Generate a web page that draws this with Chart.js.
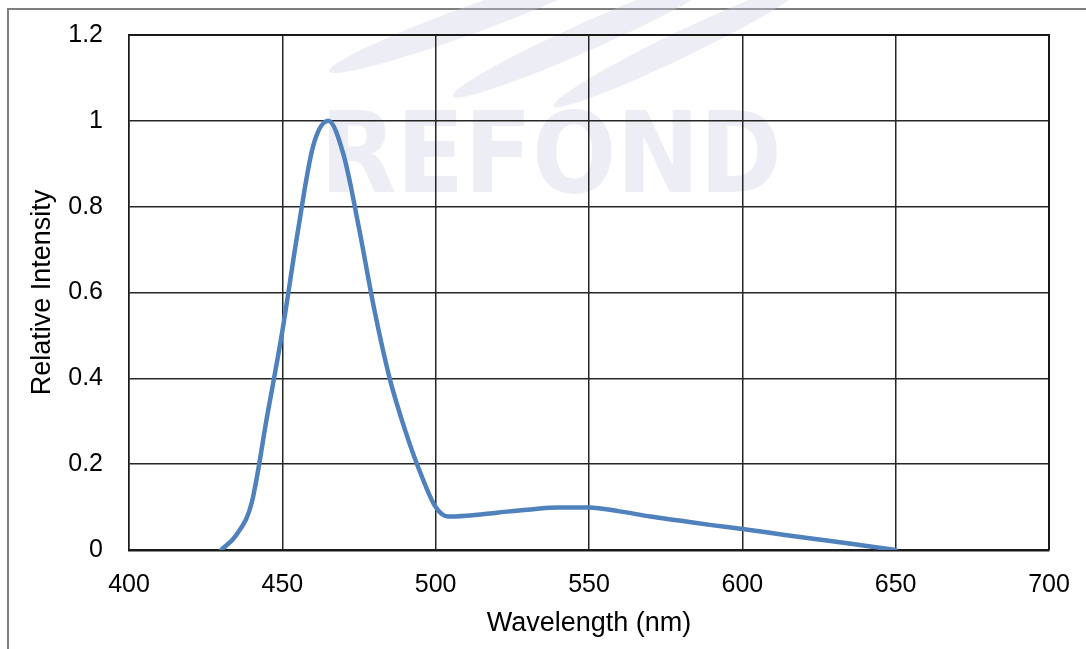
<!DOCTYPE html>
<html>
<head>
<meta charset="utf-8">
<script src="https://cdn.jsdelivr.net/npm/chart.js@4.4.1/dist/chart.umd.min.js"></script>
<style>
  html, body { margin: 0; padding: 0; background: #fff; }
  #wrap { position: relative; width: 1086px; height: 649px; }
  #frame { position: absolute; left: 7px; top: 8px; right: -10px; bottom: -10px;
           border-left: 2px solid #7f7f7f; border-top: 2px solid #7f7f7f; }
  canvas { position: absolute; left: 0; top: 0; }
</style>
</head>
<body>
<div id="wrap">
  <div id="frame"></div>
  <canvas id="chart" width="1086" height="649"></canvas>
</div>
<script>
// spectrum
const wavelengths = [430, 435, 440, 445, 450, 455, 460, 465, 470, 475, 480, 485, 490, 495, 500, 504,
                     510, 520, 530, 540, 550, 560, 570, 580, 590, 600, 610, 620, 630, 640, 650];
const intensity = [0, 0.035, 0.11, 0.31, 0.51, 0.74, 0.94, 1.0, 0.92, 0.75, 0.56, 0.4, 0.28, 0.18, 0.1, 0.078,
                   0.08, 0.087, 0.094, 0.099, 0.099, 0.09, 0.078, 0.068, 0.058, 0.049, 0.039, 0.029, 0.02, 0.01, 0];
const xTicks = [400, 450, 500, 550, 600, 650, 700];
const yTicks = [0, 0.2, 0.4, 0.6, 0.8, 1, 1.2];

const FONT = '"Liberation Sans", Arial, sans-serif';

// faint logo behind the grid
const watermark = {
  id: 'watermark',
  beforeDraw(chart) {
    const ctx = chart.ctx;
    ctx.save();
    ctx.fillStyle = 'rgba(200, 202, 225, 0.35)';
    const swooshes = [[470, 20, 150, 14, -0.35], [590, 35, 150, 14, -0.42], [680, 45, 140, 13, -0.45]];
    swooshes.forEach(s => {
      ctx.beginPath();
      ctx.ellipse(s[0], s[1], s[2], s[3], s[4], 0, Math.PI * 2);
      ctx.fill();
    });
    ctx.font = 'bold 112px "DejaVu Sans", sans-serif';
    const w = ctx.measureText('REFOND').width;
    ctx.translate(320, 192);
    ctx.scale(462 / w, 1);
    ctx.textBaseline = 'alphabetic';
    ctx.fillText('REFOND', 0, 0);
    ctx.restore();
  }
};

new Chart(document.getElementById('chart'), {
  type: 'line',
  data: {
    datasets: [{
      label: 'Relative Intensity',
      data: wavelengths.map((w, i) => ({ x: w, y: intensity[i] })),
      borderColor: '#4f81bd',
      backgroundColor: 'transparent',
      borderWidth: 4.5,
      pointRadius: 0,
      cubicInterpolationMode: 'monotone',
      borderCapStyle: 'round',
      borderJoinStyle: 'round'
    }]
  },
  options: {
    responsive: false,
    animation: false,
    layout: { padding: { left: 0, top: 35, right: 37, bottom: 0 } },
    plugins: { legend: { display: false }, tooltip: { enabled: false } },
    scales: {
      x: {
        type: 'linear',
        min: 400, max: 700,
        afterBuildTicks: s => { s.ticks = xTicks.map(v => ({ value: v })); },
        afterFit: s => { s.height = 99; s.paddingLeft = 0; s.paddingRight = 0; },
        ticks: { color: '#000', font: { family: FONT, size: 25 }, padding: 20, maxRotation: 0 },
        grid: { color: '#262626', lineWidth: 1.5, tickLength: 0, drawTicks: false },
        border: { color: '#1a1a1a', width: 2.5 },
        title: { display: true, text: 'Wavelength (nm)', color: '#000',
                 font: { family: FONT, size: 27 }, padding: { top: 6, bottom: 9 } }
      },
      y: {
        min: 0, max: 1.2,
        afterBuildTicks: s => { s.ticks = yTicks.map(v => ({ value: v })); },
        afterFit: s => { s.width = 129; s.paddingTop = 0; s.paddingBottom = 0; },
        ticks: { color: '#000', font: { family: FONT, size: 25 }, padding: 26,
                 callback: v => String(Math.round(v * 10) / 10) },
        grid: { color: '#262626', lineWidth: 1.5, tickLength: 0, drawTicks: false },
        border: { color: '#1a1a1a', width: 1.5 },
        title: { display: true, text: 'Relative Intensity', color: '#000',
                 font: { family: FONT, size: 27 }, padding: { top: 26, bottom: 0 } }
      }
    }
  },
  plugins: [watermark, {
    id: 'plotBorder',
    afterDraw(chart) {
      const a = chart.chartArea, ctx = chart.ctx;
      ctx.save();
      ctx.strokeStyle = '#1a1a1a';
      ctx.lineWidth = 2;
      ctx.beginPath();
      ctx.moveTo(a.left, a.top);
      ctx.lineTo(a.right, a.top);
      ctx.lineTo(a.right, a.bottom);
      ctx.stroke();
      ctx.restore();
    }
  }]
});
</script>
</body>
</html>
